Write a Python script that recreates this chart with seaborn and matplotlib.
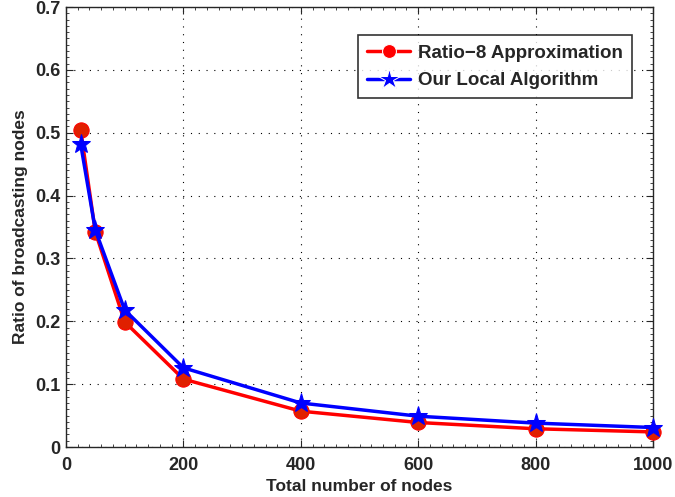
import matplotlib
matplotlib.use("Agg")
import matplotlib.pyplot as plt
from matplotlib.ticker import MultipleLocator
import seaborn as sns
import pandas as pd

# values
nodes = [25, 50, 100, 200, 400, 600, 800, 1000]
ratio8 = [0.504, 0.342, 0.199, 0.108, 0.057, 0.039, 0.029, 0.024]
local_alg = [0.482, 0.345, 0.218, 0.126, 0.070, 0.049, 0.038, 0.031]
series_names = ["Ratio\u22128 Approximation", "Our Local Algorithm"]

sns.set_style("ticks")
plt.rcParams["font.family"] = ["Liberation Sans", "DejaVu Sans"]
plt.rcParams["font.weight"] = "bold"

df = pd.DataFrame({
    "nodes": nodes * 2,
    "ratio": ratio8 + local_alg,
    "method": [series_names[0]] * len(nodes) + [series_names[1]] * len(nodes),
})

fig = plt.figure(figsize=(6.75, 4.97), dpi=100)
ax = fig.add_axes([66 / 675, 50 / 497, 587 / 675, 440 / 497])

sns.lineplot(data=df, x="nodes", y="ratio", hue="method", style="method",
             palette=["#ff0000", "#0000ff"], markers=["o", "*"], dashes=False,
             linewidth=2.5, markersize=11, ax=ax)
for ln, mec in zip(ax.lines[:2], ["#ff0000", "#0000ff"]):
    ln.set_markeredgecolor(mec)
    ln.set_clip_on(False)
    ln.set_zorder(5)
ax.lines[0].set_markerfacecolor("#e02000")
ax.lines[1].set_markersize(14)

ax.set_xlim(0, 1000)
ax.set_ylim(0, 0.7)
ax.set_xticks([0, 200, 400, 600, 800, 1000])
ax.set_yticks([0, 0.1, 0.2, 0.3, 0.4, 0.5, 0.6, 0.7])
ax.set_yticklabels(["0", "0.1", "0.2", "0.3", "0.4", "0.5", "0.6", "0.7"])
ax.xaxis.set_minor_locator(MultipleLocator(20))
ax.yaxis.set_minor_locator(MultipleLocator(0.01))
ax.tick_params(which="major", direction="in", top=True, right=True,
               labelsize=13, length=5)
ax.tick_params(axis="x", which="major", pad=7)
ax.tick_params(axis="y", which="major", pad=4)
ax.tick_params(which="minor", direction="in", top=True, right=True, length=2.5)
ax.grid(True, which="major", linestyle=(0, (1, 6)), color="black", linewidth=0.8)
for sp in ax.spines.values():
    sp.set_visible(True)
    sp.set_linewidth(1.0)
ax.set_xlabel("Total number of nodes", fontsize=12.5, fontweight="bold", labelpad=4)
ax.set_ylabel("Ratio of broadcasting nodes", fontsize=12.5, fontweight="bold", labelpad=5)

leg = ax.legend(loc="upper right", bbox_to_anchor=(0.964, 0.936), fontsize=13.5,
                frameon=True, fancybox=False, edgecolor="black",
                handlelength=2.3, borderpad=0.5, labelspacing=0.55,
                handletextpad=0.4, borderaxespad=0.0)
leg.get_frame().set_linewidth(1.2)
for h, ms in zip(leg.legend_handles, [10, 16]):
    h.set_linewidth(2.5)
    h.set_markersize(ms)

fig.savefig("out.png", dpi=100)
